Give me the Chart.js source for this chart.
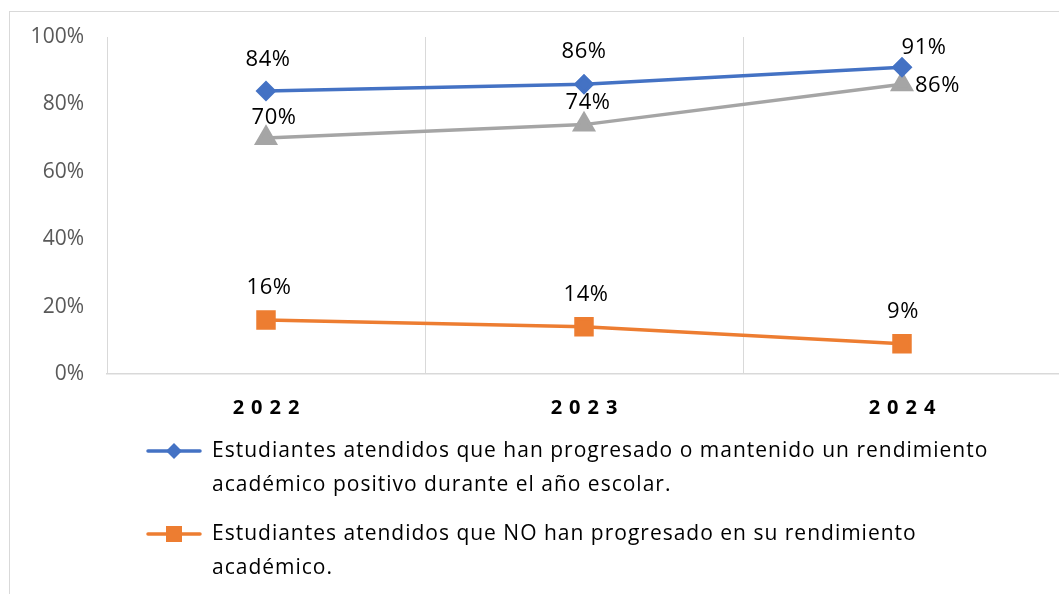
<!DOCTYPE html>
<html>
<head>
<meta charset="utf-8">
<script src="https://cdn.jsdelivr.net/npm/chart.js@4.4.0/dist/chart.umd.min.js"></script>
<style>
html, body { margin: 0; padding: 0; background: #fff; overflow: hidden; width: 1059px; height: 594px; }
#frame { position: absolute; left: 9px; top: 11px; width: 1100px; height: 700px; box-sizing: border-box;
         border-left: 1px solid #d9d9d9; border-top: 1px solid #d9d9d9; }
#wrap { position: absolute; left: 0; top: 0; width: 1080px; height: 594px; }
</style>
</head>
<body>
<div id="frame"></div>
<div id="wrap"><canvas id="myLineChart" width="1080" height="594"></canvas></div>
<script>
// datos
const years = ['2022', '2023', '2024'];
const progresaron = [84, 86, 91];
const noProgresaron = [16, 14, 9];
const serie3 = [70, 74, 86];
const yTicks = [0, 20, 40, 60, 80, 100];
const seriesNames = [
    'Estudiantes atendidos que han progresado o mantenido un rendimiento\nacadémico positivo durante el año escolar.',
    'Estudiantes atendidos que NO han progresado en su rendimiento\nacadémico.',
    'Serie 3',
];

const FONT = '"Open Sans", "Noto Sans", sans-serif';

// etiquetas de datos (tipo Excel) encima de cada punto
const dataLabels = {
    id: 'dataLabels',
    afterDatasetsDraw(chart) {
        const ctx = chart.ctx;
        ctx.save();
        ctx.font = '22px ' + FONT;
        ctx.letterSpacing = '0.5px';
        ctx.fillStyle = '#000';
        ctx.textBaseline = 'middle';
        chart.data.datasets.forEach((ds, i) => {
            const meta = chart.getDatasetMeta(i);
            meta.data.forEach((pt, j) => {
                const pos = ds.labelPos[j];
                ctx.textAlign = pos[2];
                ctx.fillText(ds.data[j] + '%', pt.x + pos[0], pt.y + pos[1]);
            });
        });
        ctx.restore();
    }
};

// leyenda con texto en dos lineas
const wrappedLegend = {
    id: 'wrappedLegend',
    afterDraw(chart) {
        const ctx = chart.ctx;
        ctx.save();
        ctx.font = '21px ' + FONT;
        ctx.letterSpacing = '1px';
        ctx.textBaseline = 'middle';
        ctx.textAlign = 'left';
        let y = 451;
        chart.data.datasets.forEach(ds => {
            const lines = ds.label.split('\n');
            ctx.strokeStyle = ds.borderColor;
            ctx.lineWidth = 3.5;
            ctx.lineCap = 'round';
            ctx.beginPath();
            ctx.moveTo(148, y);
            ctx.lineTo(200, y);
            ctx.stroke();
            ctx.fillStyle = ds.backgroundColor;
            Chart.helpers.drawPoint(ctx, { pointStyle: ds.pointStyle, radius: ds.pointRadius, borderWidth: 0, rotation: 0 }, 174, y);
            ctx.fillStyle = '#000';
            lines.forEach((t, k) => ctx.fillText(t, 212, y + k * 34));
            y += lines.length * 34 + 15;
        });
        ctx.restore();
    }
};

// años en negrita con espaciado entre letras
const spacedTicks = {
    id: 'spacedTicks',
    afterLayout(chart) {
        const sc = chart.scales.x;
        if (sc._spaced) return;
        const orig = sc.drawLabels.bind(sc);
        sc.drawLabels = function (area) {
            const c = chart.ctx;
            c.save();
            c.letterSpacing = '7px';
            c.translate(3.5, 0);
            orig(area);
            c.restore();
        };
        sc._spaced = true;
    }
};

const data1 = {
    labels: years,
    datasets: [
        {
            label: seriesNames[0],
            data: progresaron,
            borderColor: '#4472C4',
            backgroundColor: '#4472C4',
            pointStyle: 'rectRot',
            pointRadius: 8,
            borderWidth: 3.5,
            labelPos: [[2, -31, 'center'], [0, -32, 'center'], [22, -20, 'center']],
        },
        {
            label: seriesNames[1],
            data: noProgresaron,
            borderColor: '#ED7D31',
            backgroundColor: '#ED7D31',
            pointStyle: 'rect',
            pointRadius: 11.3,
            borderWidth: 3.5,
            labelPos: [[3, -32, 'center'], [2, -32, 'center'], [1, -32, 'center']],
        },
        {
            label: seriesNames[2],
            data: serie3,
            borderColor: '#A5A5A5',
            backgroundColor: '#A5A5A5',
            pointStyle: 'triangle',
            pointRadius: 10.4,
            borderWidth: 3.5,
            labelPos: [[8, -20, 'center'], [4, -22, 'center'], [13, 2, 'left']],
        },
    ],
};

const config = {
    type: 'line',
    data: data1,
    options: {
        responsive: false,
        animation: false,
        events: [],
        layout: { padding: { left: 0, top: 37, right: 19, bottom: 160 } },
        elements: {
            line: { tension: 0 },
            point: { borderWidth: 0 },
        },
        scales: {
            x: {
                type: 'category',
                offset: true,
                grid: { offset: true, color: '#d9d9d9', lineWidth: 1, drawTicks: false },
                border: { display: true, color: '#d9d9d9', width: 1.5 },
                ticks: { color: '#000', font: { family: FONT, size: 20, weight: 'bold' }, padding: 22, maxRotation: 0 },
                afterFit(scale) { scale.height = 60; },
            },
            y: {
                min: 0,
                max: 100,
                grid: { display: false },
                border: { display: false },
                ticks: { color: '#595959', font: { family: FONT, size: 21 }, padding: 15, callback: v => v + '%' },
                afterBuildTicks(scale) { scale.ticks = yTicks.map(v => ({ value: v })); },
                afterFit(scale) { scale.width = 107; },
            },
        },
        plugins: {
            legend: { display: false },
            tooltip: { enabled: false },
            title: { display: false },
        },
    },
    plugins: [dataLabels, wrappedLegend, spacedTicks],
};

var ctx = document.getElementById('myLineChart').getContext('2d');
var myLineChart = new Chart(ctx, config);
</script>
</body>
</html>
